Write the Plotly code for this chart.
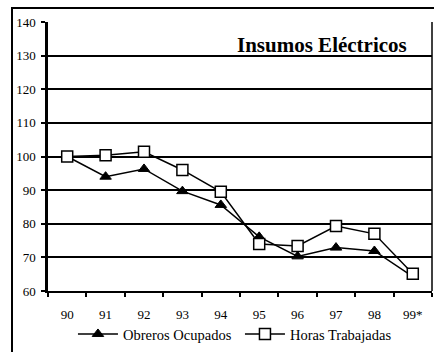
import plotly.graph_objects as go

years = ["90", "91", "92", "93", "94", "95", "96", "97", "98", "99*"]
obreros = [100, 94, 96.3, 89.7, 85.6, 76.1, 70.3, 72.9, 71.9, 64.3]
horas = [100, 100.4, 101.4, 96, 89.5, 74, 73.4, 79.3, 77, 65.1]

FONT = "Liberation Serif"

fig = go.Figure()
fig.add_trace(go.Scatter(
    x=years, y=obreros, name="Obreros Ocupados", mode="lines+markers",
    line=dict(color="black", width=1.5),
    marker=dict(symbol="triangle-up", size=10, color="black", line=dict(color="black", width=1)),
))
fig.add_trace(go.Scatter(
    x=years, y=horas, name="Horas Trabajadas", mode="lines+markers",
    line=dict(color="black", width=1.5),
    marker=dict(symbol="square", size=11, color="white", line=dict(color="black", width=1.5)),
))

fig.update_layout(
    width=434, height=352,
    margin=dict(l=48, r=2, t=22, b=59),
    paper_bgcolor="white", plot_bgcolor="white",
    font=dict(family=FONT, size=13, color="black"),
    showlegend=True,
    legend=dict(orientation="h", x=0.065, y=-0.16, xanchor="left", yanchor="middle",
                font=dict(family=FONT, size=14.5), itemwidth=40, entrywidth=112,
                bgcolor="rgba(0,0,0,0)", tracegroupgap=0, itemsizing="trace"),
    xaxis=dict(type="category", range=[-0.5, 9.5], tickson="boundaries", ticks="outside", ticklen=4,
               tickcolor="black", tickwidth=1.5, showgrid=False,
               showline=True, linecolor="black", linewidth=2, mirror=False,
               ticklabelstandoff=10, tickfont=dict(family=FONT, size=13)),
    yaxis=dict(range=[60, 140], dtick=10, ticks="outside", ticklen=4,
               tickcolor="black", tickwidth=1.5, showgrid=True, gridcolor="black",
               gridwidth=1.5, showline=True, linecolor="black", linewidth=2.5,
               zeroline=False, ticklabelstandoff=3, tickfont=dict(family=FONT, size=13)),
)

# plot-area frame (right edge) and outer border
fig.add_shape(type="line", xref="paper", yref="paper", x0=1, x1=1, y0=0, y1=1,
              line=dict(color="black", width=1.5))
fig.add_shape(type="rect", xref="paper", yref="paper",
              x0=-0.09375, x1=1.02, y0=-0.25, y1=1.0517,
              line=dict(color="black", width=2))

fig.add_annotation(text="<b>Insumos Eléctricos</b>", xref="paper", yref="paper",
                   x=0.714, y=0.915, xanchor="center", yanchor="middle", showarrow=False,
                   font=dict(family=FONT, size=21, color="black"))

fig.write_html("out.html")
